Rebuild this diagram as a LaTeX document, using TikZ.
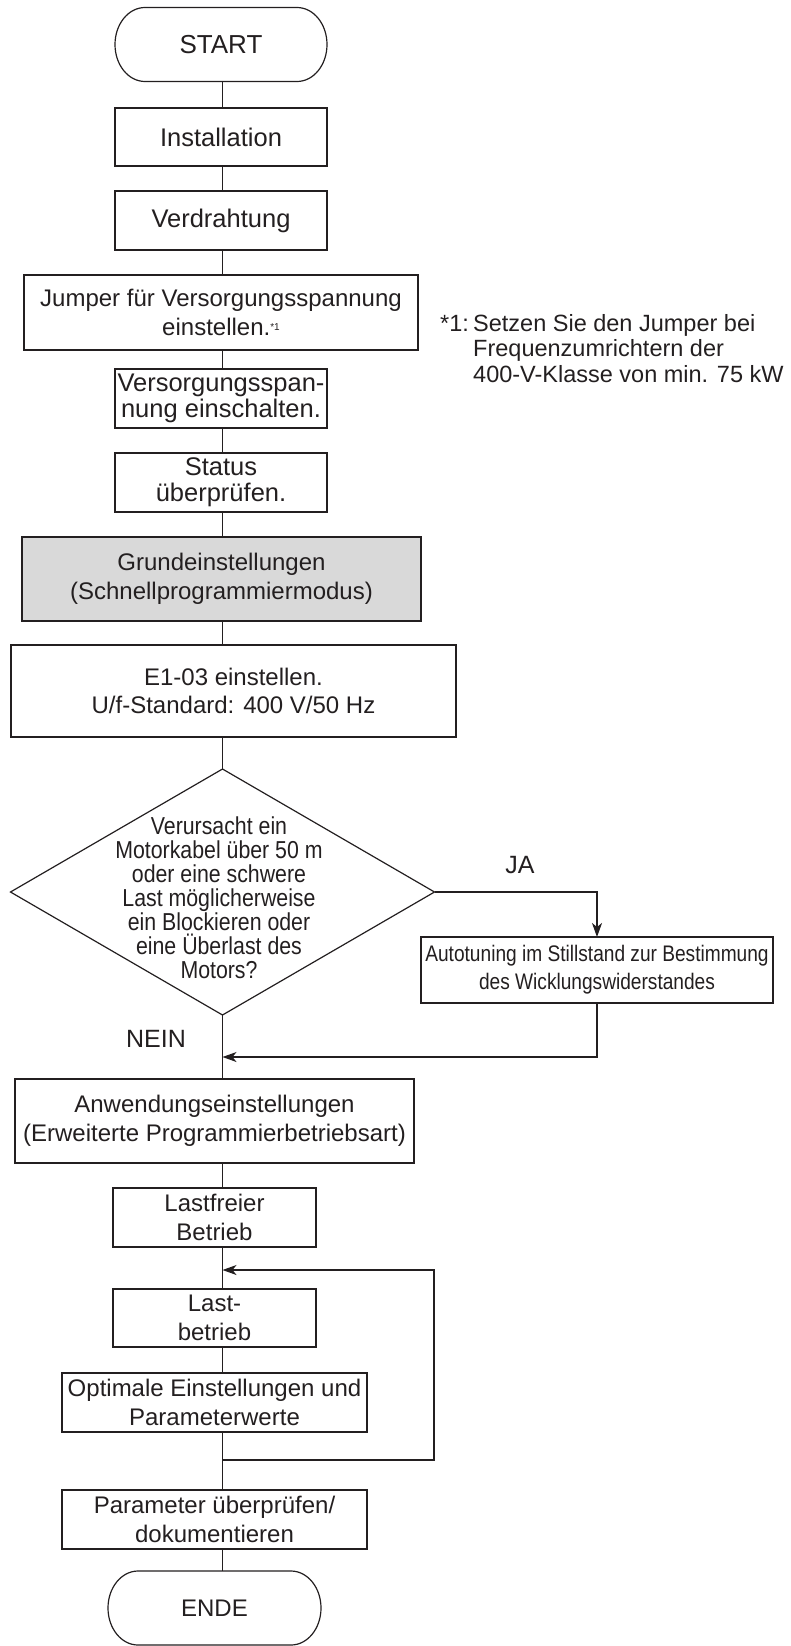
\documentclass[tikz,border=0pt]{standalone}
\usepackage{fontspec}
\setmainfont{Liberation Sans}
\newfontfamily\narrowfont[FakeStretch=0.85]{Liberation Sans}
\newfontfamily\semifont[FakeStretch=0.87]{Liberation Sans}
\usetikzlibrary{arrows.meta,shapes.geometric}
\definecolor{ink}{HTML}{231F20}
\definecolor{grayfill}{HTML}{D9D9D9}
\newcommand\termpath[1]{\draw[ln] ([xshift=30pt]#1.north west) -- ([xshift=-30pt]#1.north east) arc[start angle=90,end angle=-90,x radius=30pt,y radius=37pt] -- ([xshift=30pt]#1.south west) arc[start angle=270,end angle=90,x radius=30pt,y radius=37pt] -- cycle;}
\begin{document}
\begin{tikzpicture}[x=1pt,y=-1pt,
 ln/.style={line width=1.2pt, draw=ink},
 box/.style={ln, rectangle, inner sep=0pt, outer sep=0pt, align=center, text=ink, font=\fontsize{24}{28.5}\selectfont},
 bigbox/.style={box, font=\fontsize{25.5}{26}\selectfont},
 term/.style={rectangle, inner sep=0pt, outer sep=0pt, text=ink, font=\fontsize{26}{28}\selectfont},
 arr/.style={ln, -{Stealth[length=14pt,width=10pt,inset=4pt]}},
 lbl/.style={text=ink, inner sep=0pt, font=\fontsize{25}{28}\selectfont, anchor=base},
]
\useasboundingbox (0,0) rectangle (791,1646);
\coordinate (sp) at (222.5,0);

\node[term, minimum width=212, minimum height=74] (start) at (221,44.5) {START};
\termpath{start}
\node[bigbox, minimum width=212, minimum height=58] (inst) at (221,137) {Installation};
\node[bigbox, minimum width=212, minimum height=59] (verd) at (221,220.5) {Verdrahtung};
\node[box, minimum width=394, minimum height=75] (jump) at (221,312.5) {Jumper für Versorgungsspannung\\einstellen.\raisebox{5pt}{\fontsize{10}{10}\selectfont *1}};
\node[bigbox, minimum width=212, minimum height=59] (vers) at (221,398.5) {Versorgungsspan-\\nung einschalten.};
\node[bigbox, minimum width=212, minimum height=59] (stat) at (221,482.5) {Status\\überprüfen.};
\node[box, fill=grayfill, minimum width=399, minimum height=84] (grund) at (221.5,579) {Grundeinstellungen\\(Schnellprogrammiermodus)};
\node[box, minimum width=445, minimum height=92] (e103) at (233.5,691) {E1-03 einstellen.\\U/f-Standard: 400 V/50 Hz};

\node[ln, diamond, minimum width=424, minimum height=246, inner sep=0pt, outer sep=0pt] (dia) at (222.5,892) {};
\node[text=ink, inner sep=0pt, align=center, font=\semifont\fontsize{24.5}{24}\selectfont] (diatext) at (219,898) {Verursacht ein\\Motorkabel über 50 m\\oder eine schwere\\Last möglicherweise\\ein Blockieren oder\\eine Überlast des\\Motors?};

\node[box, font=\narrowfont\fontsize{22.5}{28}\selectfont, minimum width=352, minimum height=66] (auto) at (597,970) {Autotuning im Stillstand zur Bestimmung\\des Wicklungswiderstandes};
\node[lbl] (ja) at (520,873) {JA};
\node[lbl] (nein) at (156,1047) {NEIN};

\node[box, minimum width=399, minimum height=84] (anw) at (214.5,1121) {Anwendungseinstellungen\\(Erweiterte Programmierbetriebsart)};
\node[box, minimum width=203, minimum height=59] (lastf) at (214.5,1217.5) {Lastfreier\\Betrieb};
\node[box, minimum width=203, minimum height=58] (lastb) at (214.5,1318) {Last-\\betrieb};
\node[box, minimum width=305, minimum height=59] (opt) at (214.5,1402.5) {Optimale Einstellungen und\\Parameterwerte};
\node[box, minimum width=305, minimum height=59] (param) at (214.5,1519.5) {Parameter überprüfen/\\dokumentieren};
\node[term, font=\fontsize{24}{28}\selectfont, minimum width=213, minimum height=74] (ende) at (214.5,1608) {ENDE};
\termpath{ende}

\node[text=ink, inner sep=0pt, anchor=base west, font=\fontsize{23.5}{25.5}\selectfont] (fn) at (440,331)
 {\begin{tabular}[t]{@{}l@{}l@{}}\makebox[33pt][l]{*1:}&Setzen Sie den Jumper bei\\&Frequenzumrichtern der\\&400-V-Klasse von min. 75 kW\end{tabular}};

\draw[ln] (start.south -| sp) -- (inst.north -| sp);
\draw[ln] (inst.south -| sp) -- (verd.north -| sp);
\draw[ln] (verd.south -| sp) -- (jump.north -| sp);
\draw[ln] (jump.south -| sp) -- (vers.north -| sp);
\draw[ln] (vers.south -| sp) -- (stat.north -| sp);
\draw[ln] (stat.south -| sp) -- (grund.north -| sp);
\draw[ln] (grund.south -| sp) -- (e103.north -| sp);
\draw[ln] (e103.south -| sp) -- (dia.north);
\draw[ln] (dia.south) -- (anw.north -| sp);
\draw[arr] (dia.east) -| (auto.north);
\coordinate (j1) at (222.5,1057);
\draw[arr] (auto.south) |- (j1);
\draw[ln] (anw.south -| sp) -- (lastf.north -| sp);
\draw[ln] (lastf.south -| sp) -- (lastb.north -| sp);
\draw[ln] (lastb.south -| sp) -- (opt.north -| sp);
\draw[ln] (opt.south -| sp) -- (param.north -| sp);
\draw[ln] (param.south -| sp) -- (ende.north -| sp);
\coordinate (l1) at (222.5,1460);
\coordinate (l2) at (434,1460);
\coordinate (l3) at (222.5,1270);
\draw[arr] (l1) -- (l2) |- (l3);
\end{tikzpicture}
\end{document}
